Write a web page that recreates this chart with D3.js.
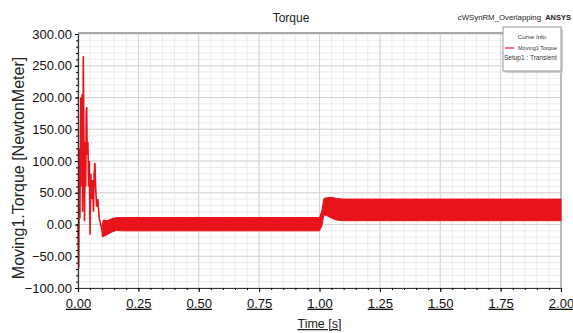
<!DOCTYPE html>
<html><head><meta charset="utf-8">
<script src="https://cdn.jsdelivr.net/npm/d3@7"></script>
<style>body{margin:0;background:#fff;}svg{display:block;font-family:"Liberation Sans",Arial,sans-serif;}</style>
</head><body>
<svg id="c" width="573" height="333"></svg>
<script>
// ---- data ----
const xTicks = [0, 0.25, 0.5, 0.75, 1.0, 1.25, 1.5, 1.75, 2.0];
const yTicks = [-100, -50, 0, 50, 100, 150, 200, 250, 300];
// start-up transient (s, N·m)
const transientT = [0, 0.003, 0.006, 0.008, 0.011, 0.014, 0.017, 0.019, 0.022, 0.025, 0.027, 0.030, 0.032, 0.034, 0.036, 0.038, 0.041, 0.044, 0.047, 0.050, 0.053, 0.056, 0.060, 0.064, 0.067, 0.070, 0.073, 0.077, 0.082, 0.088, 0.094, 0.100, 0.105];
const transientV = [0, -68, 120, 10, 200, 60, 205, 20, 265, 100, 5, 130, 60, 175, 185, 110, 130, 60, 100, -16, 80, 40, 70, 20, 80, 97, 60, 28, 40, 10, 0, -10, -19];
// ripple band envelope (s, upper N·m, lower N·m)
const envT     = [0.100, 0.105, 0.120, 0.140, 0.160, 0.180, 0.500, 0.995, 1.000, 1.010, 1.018, 1.030, 1.050, 1.070, 1.100, 1.500, 2.000];
const envUpper = [-2, 7, 6, 9, 11, 11, 11, 11, 11, 22, 41, 42, 43, 41, 40, 40, 40];
const envLower = [-19, -19, -16, -12, -9, -10, -10, -10, -10, -2, 15, 14, 10, 7, 6, 6, 6];

const svg = d3.select("#c");
const x = d3.scaleLinear().domain([0, 2]).range([78, 561]);
const y = d3.scaleLinear().domain([-100, 300]).range([288, 34]);
const red = "#e8131b";

// grid
const minorX = d3.range(0, 2.0001, 0.05);
const minorY = d3.range(-100, 300.001, 10);
const g = svg.append("g");
g.selectAll(".mx").data(minorX).join("line")
  .attr("x1", d => x(d)).attr("x2", d => x(d)).attr("y1", y(300)).attr("y2", y(-100))
  .attr("stroke", "#ececec").attr("stroke-width", 1);
g.selectAll(".my").data(minorY).join("line")
  .attr("x1", x(0)).attr("x2", x(2)).attr("y1", d => y(d)).attr("y2", d => y(d))
  .attr("stroke", "#ececec").attr("stroke-width", 1);
g.selectAll(".Mx").data(xTicks).join("line")
  .attr("x1", d => x(d)).attr("x2", d => x(d)).attr("y1", y(300)).attr("y2", y(-100))
  .attr("stroke", "#d4d4d4").attr("stroke-width", 1);
g.selectAll(".My").data(yTicks).join("line")
  .attr("x1", x(0)).attr("x2", x(2)).attr("y1", d => y(d)).attr("y2", d => y(d))
  .attr("stroke", "#d4d4d4").attr("stroke-width", 1);

// frame top/right
svg.append("line").attr("x1", x(0)).attr("x2", x(2)).attr("y1", y(300) - 1).attr("y2", y(300) - 1)
  .attr("stroke", "#a8a8a8").attr("stroke-width", 2);
svg.append("line").attr("x1", x(2)).attr("x2", x(2)).attr("y1", y(300)).attr("y2", y(-100))
  .attr("stroke", "#909090").attr("stroke-width", 1);

// band
const area = d3.area().x((d, i) => x(envT[i])).y0((d, i) => y(envLower[i])).y1((d, i) => y(envUpper[i]));
svg.append("path").datum(envT).attr("d", area).attr("fill", red).attr("stroke", red).attr("stroke-width", 1);
// transient
const line = d3.line().x((d, i) => x(transientT[i])).y((d, i) => y(transientV[i]));
svg.append("path").datum(transientT).attr("d", line).attr("fill", "none")
  .attr("stroke", red).attr("stroke-width", 1.6).attr("stroke-linejoin", "miter");

// axes
const fmt = d3.format(".2f");
const xAxis = svg.append("g").attr("transform", `translate(0,${y(-100)})`)
  .call(d3.axisBottom(x).tickValues(xTicks).tickFormat(fmt).tickSize(4).tickPadding(4));
svg.append("g").attr("transform", `translate(0,${y(-100)})`)
  .call(d3.axisBottom(x).tickValues(minorX).tickFormat("").tickSize(2))
  .call(s => s.select(".domain").remove());
const yAxis = svg.append("g").attr("transform", `translate(${x(0)},0)`)
  .call(d3.axisLeft(y).tickValues(yTicks).tickFormat(fmt).tickSize(3).tickPadding(3));
svg.append("g").attr("transform", `translate(${x(0)},0)`)
  .call(d3.axisLeft(y).tickValues(minorY).tickFormat("").tickSize(2))
  .call(s => s.select(".domain").remove());
[xAxis, yAxis].forEach(a => {
  a.select(".domain").attr("stroke", "#333").attr("stroke-width", 1.2);
  a.selectAll("text").attr("font-size", 13).attr("fill", "#111")
    .attr("font-family", "'Liberation Sans',Arial,sans-serif");
});
xAxis.selectAll("text").attr("text-decoration", "underline").attr("dy", "0.9em");

// titles
svg.append("text").attr("x", 291).attr("y", 22).attr("text-anchor", "middle")
  .attr("font-size", 12).attr("fill", "#222").text("Torque");
svg.append("text").attr("x", 541).attr("y", 20).attr("text-anchor", "end")
  .attr("font-size", 7.8).attr("fill", "#222").text("cWSynRM_Overlapping");
svg.append("text").attr("x", 571).attr("y", 20).attr("text-anchor", "end")
  .attr("font-size", 7.5).attr("font-weight", "bold").attr("fill", "#222").text("ANSYS");
svg.append("text").attr("transform", `translate(24,168) rotate(-90)`)
  .attr("text-anchor", "middle").attr("font-size", 16).attr("fill", "#222").text("Moving1.Torque [NewtonMeter]");
svg.append("text").attr("x", x(1)).attr("y", 328).attr("text-anchor", "middle")
  .attr("font-size", 12.5).attr("fill", "#222").attr("text-decoration", "underline").text("Time [s]");

// legend
const lg = svg.append("g");
lg.append("rect").attr("x", 505).attr("y", 29).attr("width", 58).attr("height", 44).attr("fill", "#d0d0d0");
lg.append("rect").attr("x", 503).attr("y", 27).attr("width", 58).attr("height", 44)
  .attr("fill", "#fff").attr("stroke", "#999").attr("stroke-width", 1);
lg.append("text").attr("x", 532).attr("y", 39).attr("text-anchor", "middle").attr("font-size", 6.2).attr("fill", "#333").text("Curve Info");
lg.append("line").attr("x1", 505).attr("x2", 514).attr("y1", 48).attr("y2", 48).attr("stroke", red).attr("stroke-width", 1.2);
lg.append("text").attr("x", 518).attr("y", 50).attr("font-size", 5.5).attr("fill", "#333").text("Moving1 Torque");
lg.append("text").attr("x", 504).attr("y", 60).attr("font-size", 6.5).attr("fill", "#333").text("Setup1 : Transient");
</script>
</body></html>
